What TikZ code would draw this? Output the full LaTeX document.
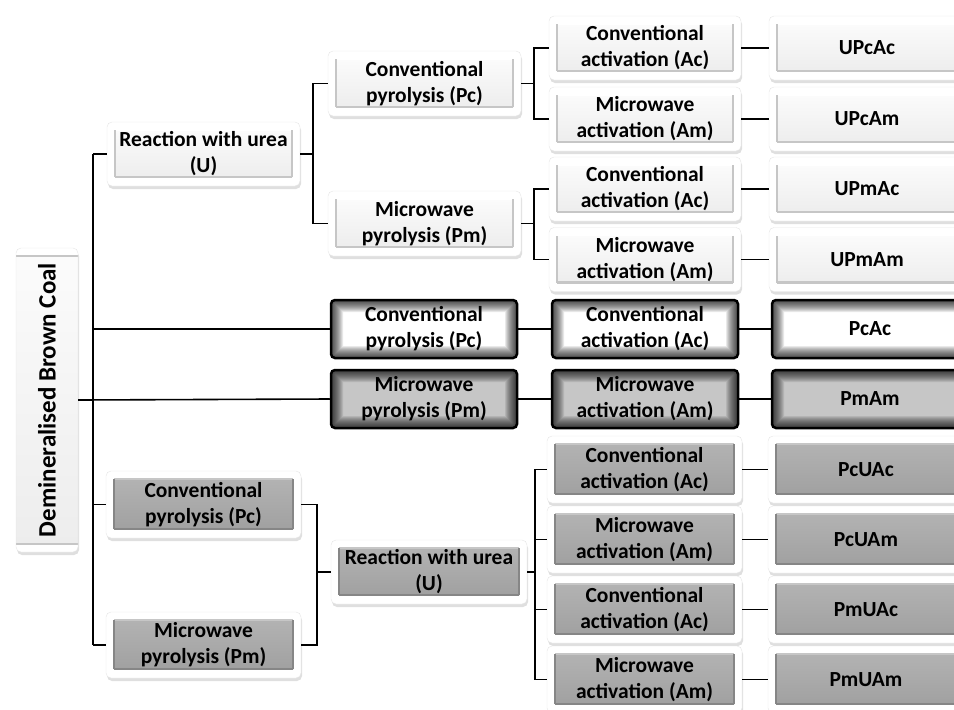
\documentclass[tikz,border=0pt]{standalone}
\usepackage{fontspec}
\setmainfont{Carlito}
\usetikzlibrary{shadows}

\begin{document}
\begin{tikzpicture}[x=1pt, y=-1pt,
	every node/.style={font=\bfseries\fontsize{21.5}{26}\selectfont, align=center, inner sep=0pt},
	conn/.style={line width=1.6pt, black},
	sz/.style 2 args={minimum width=#1pt, minimum height=#2pt},
	bevel/.style n args={4}{path picture={
		\path ([shift={(8pt,9pt)}]path picture bounding box.south west) coordinate (bvA)
		      ([shift={(-8pt,-8pt)}]path picture bounding box.north east) coordinate (bvB);
		\shade[sharp corners, top color=#1, bottom color=#2] (bvA) rectangle (bvB);
		\draw[sharp corners, #3, line width=1.2pt] (bvA |- bvB) -- (bvB);
		\draw[sharp corners, #4, line width=1.5pt] (bvA) -- (bvA |- bvB) (bvA -| bvB) -- (bvB);
		\draw[sharp corners, #4, line width=2.5pt] (bvA) -- (bvA -| bvB);
	}},
	wbox/.style={rounded corners=5pt, fill=white, draw=gray!20, line width=0.4pt,
		drop shadow={shadow xshift=1pt, shadow yshift=-3pt, opacity=0.25},
		bevel={gray!3}{gray!14}{white}{gray!45}},
	gbox/.style={rounded corners=5pt, fill=white, draw=gray!20, line width=0.4pt,
		drop shadow={shadow xshift=1pt, shadow yshift=-3pt, opacity=0.25},
		bevel={gray!60}{gray!74}{gray!45}{gray!95}},
	glow/.style={rounded corners=4pt, draw=black, line width=2.5pt, fill=#1,
		path picture={\foreach \w in {2,4,...,24}
			\draw[black, line width=\w pt, opacity=0.085] (path picture bounding box.south west) rectangle (path picture bounding box.north east);}}
]
	\clip (0,0) rectangle (954,710);

	\node[wbox, rotate=90, sz={304}{62}, font=\bfseries\fontsize{25}{30}\selectfont] (root) at (47,400) {Demineralised Brown Coal};
	\coordinate (trunk) at (93,400);

	\node[wbox, sz={193}{64}] (uT) at (203.5,154) {Reaction with urea\\(U)};
	\node[wbox, sz={193}{65}] (pcT) at (424.5,83.5) {Conventional\\pyrolysis (Pc)};
	\node[wbox, sz={193}{65}] (pmT) at (424.5,223.5) {Microwave\\pyrolysis (Pm)};
	\node[wbox, sz={192}{64}] (acT1) at (645,48) {Conventional\\activation (Ac)};
	\node[wbox, sz={192}{64}] (amT1) at (645,119) {Microwave\\activation (Am)};
	\node[wbox, sz={192}{64}] (acT2) at (645,189) {Conventional\\activation (Ac)};
	\node[wbox, sz={192}{64}] (amT2) at (645,259.5) {Microwave\\activation (Am)};
	\node[wbox, sz={196}{64}] (fUPcAc) at (867,48) {UPcAc};
	\node[wbox, sz={196}{64}] (fUPcAm) at (867,119) {UPcAm};
	\node[wbox, sz={196}{64}] (fUPmAc) at (867,189) {UPmAc};
	\node[wbox, sz={196}{64}] (fUPmAm) at (867,259.5) {UPmAm};

	\node[glow=white, sz={186}{58}] (pcM) at (424,329) {Conventional\\pyrolysis (Pc)};
	\node[glow=white, sz={186}{58}] (acM) at (645,329) {Conventional\\activation (Ac)};
	\node[glow=white, sz={196}{58}] (fPcAc) at (870,329) {PcAc};
	\node[glow=gray!45, sz={186}{58}] (pmM) at (424,399) {Microwave\\pyrolysis (Pm)};
	\node[glow=gray!45, sz={186}{58}] (amM) at (645,399) {Microwave\\activation (Am)};
	\node[glow=gray!45, sz={196}{58}] (fPmAm) at (870,399) {PmAm};

	\node[gbox, sz={195}{67}] (pcB) at (203.5,504.5) {Conventional\\pyrolysis (Pc)};
	\node[gbox, sz={195}{66}] (pmB) at (203.5,645) {Microwave\\pyrolysis (Pm)};
	\node[gbox, sz={196}{64}] (uB) at (429,572) {Reaction with urea\\(U)};
	\node[gbox, sz={195}{67}] (acB1) at (644.5,469.5) {Conventional\\activation (Ac)};
	\node[gbox, sz={195}{67}] (amB1) at (644.5,539.5) {Microwave\\activation (Am)};
	\node[gbox, sz={195}{67}] (acB2) at (644.5,609.5) {Conventional\\activation (Ac)};
	\node[gbox, sz={195}{67}] (amB2) at (644.5,679.5) {Microwave\\activation (Am)};
	\node[gbox, sz={196}{67}] (fPcUAc) at (866,469.5) {PcUAc};
	\node[gbox, sz={196}{67}] (fPcUAm) at (866,539.5) {PcUAm};
	\node[gbox, sz={196}{67}] (fPmUAc) at (866,609.5) {PmUAc};
	\node[gbox, sz={196}{67}] (fPmUAm) at (866,679.5) {PmUAm};

	\draw[conn] (trunk |- uT.west) -- (trunk |- pmB.west);
	\draw[conn] (root.south) -- (pmM.west);
	\draw[conn] (trunk |- uT.west) -- (uT.west);
	\draw[conn] (trunk |- pcM.west) -- (pcM.west);
	\draw[conn] (trunk |- pcB.west) -- (pcB.west);
	\draw[conn] (trunk |- pmB.west) -- (pmB.west);

	\draw[conn] (uT.east) -- ++(13,0) |- (pcT.west);
	\draw[conn] (uT.east) -- ++(13,0) |- (pmT.west);
	\draw[conn] (pcT.east) -- ++(13,0) |- (acT1.west);
	\draw[conn] (pcT.east) -- ++(13,0) |- (amT1.west);
	\draw[conn] (pmT.east) -- ++(13,0) |- (acT2.west);
	\draw[conn] (pmT.east) -- ++(13,0) |- (amT2.west);
	\draw[conn] (acT1) -- (fUPcAc);
	\draw[conn] (amT1) -- (fUPcAm);
	\draw[conn] (acT2) -- (fUPmAc);
	\draw[conn] (amT2) -- (fUPmAm);

	\draw[conn] (pcM) -- (acM);
	\draw[conn] (acM) -- (fPcAc);
	\draw[conn] (pmM) -- (amM);
	\draw[conn] (amM) -- (fPmAm);

	\draw[conn] (pcB.east) -- ++(16,0) |- (uB.west);
	\draw[conn] (pmB.east) -- ++(16,0) |- (uB.west);
	\draw[conn] (uB.east) -- ++(8,0) |- (acB1.west);
	\draw[conn] (uB.east) -- ++(8,0) |- (amB1.west);
	\draw[conn] (uB.east) -- ++(8,0) |- (acB2.west);
	\draw[conn] (uB.east) -- ++(8,0) |- (amB2.west);
	\draw[conn] (acB1) -- (fPcUAc);
	\draw[conn] (amB1) -- (fPcUAm);
	\draw[conn] (acB2) -- (fPmUAc);
	\draw[conn] (amB2) -- (fPmUAm);
\end{tikzpicture}
\end{document}
